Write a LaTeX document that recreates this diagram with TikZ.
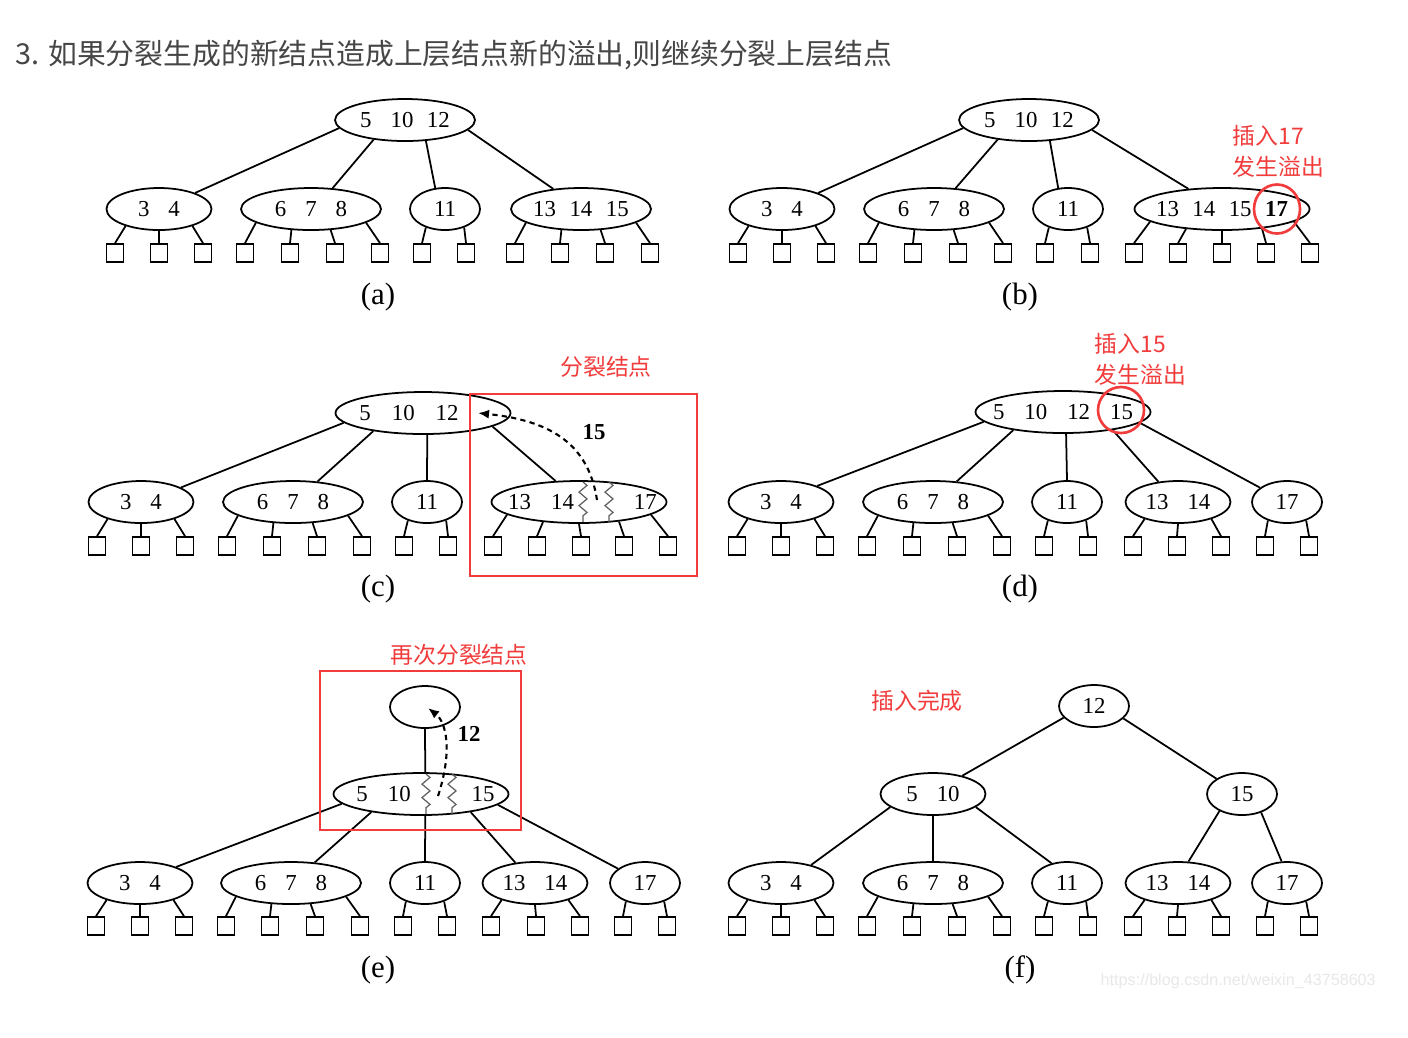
\documentclass[tikz,border=0pt]{standalone}
\usepackage{fontspec}
\setmainfont{Liberation Serif}
\newfontfamily\cjk{Noto Sans CJK SC}
\newfontfamily\wmfont{Liberation Sans}
\usetikzlibrary{shapes.geometric,arrows.meta,decorations.pathmorphing}

\definecolor{mark}{RGB}{242,60,60}
\definecolor{titlegray}{RGB}{70,70,70}
\definecolor{zig}{RGB}{95,95,95}

\newcommand{\kg}{\hspace{1.9mm}}
\newcommand{\ks}{\hspace{1.35mm}}
\newcommand{\kt}[1]{\makebox[0pt]{#1}}

\tikzset{
  bnode/.style={ellipse, draw, line width=0.5pt, inner sep=0pt, minimum height=4.2mm,
    font=\fontsize{6.5}{7}\selectfont},
  k1/.style={bnode, minimum width=7mm},
  k2/.style={bnode, minimum width=10.5mm},
  k3/.style={bnode, minimum width=14mm},
  k4/.style={bnode, minimum width=17.5mm},
  leaf/.style={draw, line width=0.5pt, inner sep=0pt, minimum width=1.7mm, minimum height=1.8mm},
  tlink/.style={line width=0.5pt},
  caption/.style={font=\fontsize{8.8}{10}\selectfont},
  note/.style={font=\cjk\fontsize{6.5}{8}\selectfont, text=mark, inner sep=0pt},
  hilite/.style={draw=mark, line width=0.75pt},
  climb/.style={line width=0.6pt, dash pattern=on 1.5pt off 1.2pt, -{Latex[length=1.1mm,width=0.9mm]}},
  zz/.style={draw=zig, line width=0.35pt, decorate,
    decoration={zigzag, segment length=1.35mm, amplitude=0.4mm}},
  moved/.style={font=\bfseries\fontsize{6.5}{7}\selectfont},
}

\begin{document}
\begin{tikzpicture}[x=0.1mm, y=-0.1mm]
  \fill[white] (0,0) rectangle (1408,1037);
  \path[use as bounding box] (0,0) rectangle (1408,1037);

  \node[anchor=west, inner sep=0pt, text=titlegray, font=\cjk\fontsize{8.2}{10}\selectfont] (title) at (15,55)
    {3. 如果分裂生成的新结点造成上层结点新的溢出,则继续分裂上层结点};

  % (a)
  \node[k3] (a0) at (405,120) {\kt{5\kg 10\ks 12}};
  \node[k2] (a1) at (159,209) {\kt{3\kg 4}};
  \node[k3] (a2) at (311,209) {\kt{6\kg 7\kg 8}};
  \node[k1] (a3) at (445,209) {\kt{11}};
  \node[k3] (a4) at (581,209) {\kt{13\ks 14\ks 15}};
  \draw[tlink] (a0.187) -- (a1.24);
  \draw[tlink] (a0.212) -- (a2.44);
  \draw[tlink] (a0.315) -- (a3.115);
  \draw[tlink] (a0.351) -- (a4.144);
  \foreach \x/\pn/\ang [count=\i] in {115/a1/207, 159/a1/270, 203/a1/333,
      245/a2/194, 290/a2/227, 335/a2/313, 380/a2/346, 422/a3/224, 466/a3/316,
      515/a4/194, 560/a4/227, 605/a4/313, 650/a4/346} {
    \node[leaf] (al\i) at (\x,253) {};
    \draw[tlink] (\pn.\ang) -- (al\i.north);
  }
  \node[caption] (acap) at (378,297) {(a)};

  % (b)
  \node[k3] (b0) at (1029,120) {\kt{5\kg 10\ks 12}};
  \node[k2] (b1) at (782,209) {\kt{3\kg 4}};
  \node[k3] (b2) at (934,209) {\kt{6\kg 7\kg 8}};
  \node[k1] (b3) at (1068,209) {\kt{11}};
  \node[k4] (b4) at (1222,209) {\kt{13\ks 14\ks 15\ks \textbf{17}}};
  \draw[tlink] (b0.187) -- (b1.24);
  \draw[tlink] (b0.212) -- (b2.44);
  \draw[tlink] (b0.315) -- (b3.115);
  \draw[tlink] (b0.351) -- (b4.149);
  \foreach \x/\pn/\ang [count=\i] in {738/b1/207, 782/b1/270, 826/b1/333,
      868/b2/194, 913/b2/227, 958/b2/313, 1003/b2/346, 1045/b3/224, 1090/b3/316,
      1134/b4/190, 1178/b4/209, 1222/b4/270, 1266/b4/334, 1310/b4/350} {
    \node[leaf] (bl\i) at (\x,253) {};
    \draw[tlink] (\pn.\ang) -- (bl\i.north);
  }
  \draw[hilite] (1277,209) ellipse [x radius=2.3mm, y radius=2.45mm];
  \node[note, anchor=west] (bn1) at (1232,136) {插入17};
  \node[note, anchor=west] (bn2) at (1232,167) {发生溢出};
  \node[caption] (bcap) at (1020,297) {(b)};

  % (c)
  \node[k4] (c0) at (423,413) {\kt{5\hspace{2.1mm}10\hspace{2.1mm}12\hspace{2.8mm}}};
  \node[k2] (c1) at (141,502) {\kt{3\kg 4}};
  \node[k3] (c2) at (293,502) {\kt{6\kg 7\kg 8}};
  \node[k1] (c3) at (427,502) {\kt{11}};
  \node[k4] (c4) at (579,502) {\kt{\hspace{0.7mm}13\hspace{2mm}14\hspace{6mm}17}};
  \draw[tlink] (c0.187) -- (c1.20);
  \draw[tlink] (c0.200) -- (c2.40);
  \draw[tlink] (c0.281) -- (c3.north);
  \draw[tlink] (c0.349) -- (c4.138);
  \foreach \x/\pn/\ang [count=\i] in {97/c1/207, 141/c1/270, 185/c1/333,
      227/c2/194, 272/c2/227, 317/c2/313, 362/c2/346, 404/c3/224, 448/c3/316,
      493/c4/190, 537/c4/209, 581/c4/270, 624/c4/334, 668/c4/350} {
    \node[leaf] (cl\i) at (\x,546) {};
    \draw[tlink] (\pn.\ang) -- (cl\i.north);
  }
  \draw[zz] (583,482) -- (583,522);
  \draw[zz] (609,482) -- (609,522);
  \coordinate (c15s) at (597,500);
  \coordinate (c15e) at (478,413);
  \draw[climb] (c15s) .. controls (588,440) and (545,420) .. (c15e);
  \node[moved] (c15) at (594,432) {15};
  \draw[hilite] (470,394) rectangle (697,576);
  \node[note] (cn) at (606,367) {分裂结点};
  \node[caption] (ccap) at (378,589) {(c)};

  % (d)
  \node[k4] (d0) at (1063,412) {\kt{5\hspace{2mm}10\hspace{2mm}12\hspace{2mm}15}};
  \node[k2] (d1) at (781,502) {\kt{3\kg 4}};
  \node[k3] (d2) at (933,502) {\kt{6\kg 7\kg 8}};
  \node[k1] (d3) at (1067,502) {\kt{11}};
  \node[k2] (d4) at (1178,502) {\kt{13\kg 14}};
  \node[k1] (d5) at (1287,502) {\kt{17}};
  \draw[tlink] (d0.187) -- (d1.24);
  \draw[tlink] (d0.200) -- (d2.41);
  \draw[tlink] (d0.278) -- (d3.north);
  \draw[tlink] (d0.340) -- (d4.134);
  \draw[tlink] (d0.352) -- (d5.152);
  \foreach \x/\pn/\ang [count=\i] in {737/d1/207, 781/d1/270, 825/d1/333,
      867/d2/194, 912/d2/227, 957/d2/313, 1002/d2/346, 1044/d3/224, 1088/d3/316,
      1133/d4/207, 1177/d4/270, 1221/d4/333, 1265/d5/224, 1309/d5/316} {
    \node[leaf] (dl\i) at (\x,546) {};
    \draw[tlink] (\pn.\ang) -- (dl\i.north);
  }
  \draw[hilite] (1121,410) ellipse [x radius=2.3mm, y radius=2.3mm];
  \node[note, anchor=west] (dn1) at (1094,344) {插入15};
  \node[note, anchor=west] (dn2) at (1094,375) {发生溢出};
  \node[caption] (dcap) at (1020,589) {(d)};

  % (e)
  \node[k1] (e9) at (425,707) {};
  \node[k4] (e0) at (421,794) {\kt{\hspace{0.9mm}5\hspace{2mm}10\hspace{6.1mm}15}};
  \node[k2] (e1) at (140,883) {\kt{3\kg 4}};
  \node[k3] (e2) at (291,883) {\kt{6\kg 7\kg 8}};
  \node[k1] (e3) at (425,883) {\kt{11}};
  \node[k2] (e4) at (535,883) {\kt{13\kg 14}};
  \node[k1] (e5) at (645,883) {\kt{17}};
  \draw[tlink] (e9.south) -- (e0.79);
  \draw[tlink] (e0.187) -- (e1.24);
  \draw[tlink] (e0.200) -- (e2.41);
  \draw[tlink] (e0.281) -- (e3.north);
  \draw[tlink] (e0.340) -- (e4.134);
  \draw[tlink] (e0.352) -- (e5.152);
  \foreach \x/\pn/\ang [count=\i] in {96/e1/207, 140/e1/270, 184/e1/333,
      226/e2/194, 270/e2/227, 315/e2/313, 360/e2/346, 403/e3/224, 447/e3/316,
      491/e4/207, 536/e4/270, 580/e4/333, 623/e5/224, 667/e5/316} {
    \node[leaf] (el\i) at (\x,926) {};
    \draw[tlink] (\pn.\ang) -- (el\i.north);
  }
  \draw[zz] (426,774) -- (426,814);
  \draw[zz] (452,774) -- (452,814);
  \coordinate (e12s) at (438,796);
  \coordinate (e12e) at (428,708);
  \draw[climb] (e12s) .. controls (453,750) and (446,722) .. (e12e);
  \node[moved] (e12) at (469,734) {12};
  \draw[hilite] (320,671) rectangle (521,830);
  \node[note] (en) at (459,655) {再次分裂结点};
  \node[caption] (ecap) at (378,970) {(e)};

  % (f)
  \node[k1] (f0) at (1094,706) {\kt{12}};
  \node[k2] (f1) at (933,794) {\kt{5\kg 10}};
  \node[k1] (f2) at (1242,794) {\kt{15}};
  \node[k2] (f3) at (781,883) {\kt{3\kg 4}};
  \node[k3] (f4) at (933,883) {\kt{6\kg 7\kg 8}};
  \node[k1] (f5) at (1067,883) {\kt{11}};
  \node[k2] (f6) at (1178,883) {\kt{13\kg 14}};
  \node[k1] (f7) at (1287,883) {\kt{17}};
  \draw[tlink] (f0.201) -- (f1.32);
  \draw[tlink] (f0.337) -- (f2.149);
  \draw[tlink] (f1.197) -- (f3.31);
  \draw[tlink] (f1.south) -- (f4.north);
  \draw[tlink] (f1.343) -- (f5.128);
  \draw[tlink] (f2.217) -- (f6.64);
  \draw[tlink] (f2.316) -- (f7.104);
  \foreach \x/\pn/\ang [count=\i] in {737/f3/207, 781/f3/270, 825/f3/333,
      867/f4/194, 912/f4/227, 957/f4/313, 1002/f4/346, 1044/f5/224, 1088/f5/316,
      1133/f6/207, 1177/f6/270, 1221/f6/333, 1265/f7/224, 1309/f7/316} {
    \node[leaf] (fl\i) at (\x,926) {};
    \draw[tlink] (\pn.\ang) -- (fl\i.north);
  }
  \node[note] (fn) at (917,701) {插入完成};
  \node[caption] (fcap) at (1020,970) {(f)};

  \node[anchor=west, inner sep=0pt, text=black!9, font=\wmfont\fontsize{4.6}{5}\selectfont] (wm) at (1100,981)
    {https://blog.csdn.net/weixin\_43758603};
\end{tikzpicture}
\end{document}
